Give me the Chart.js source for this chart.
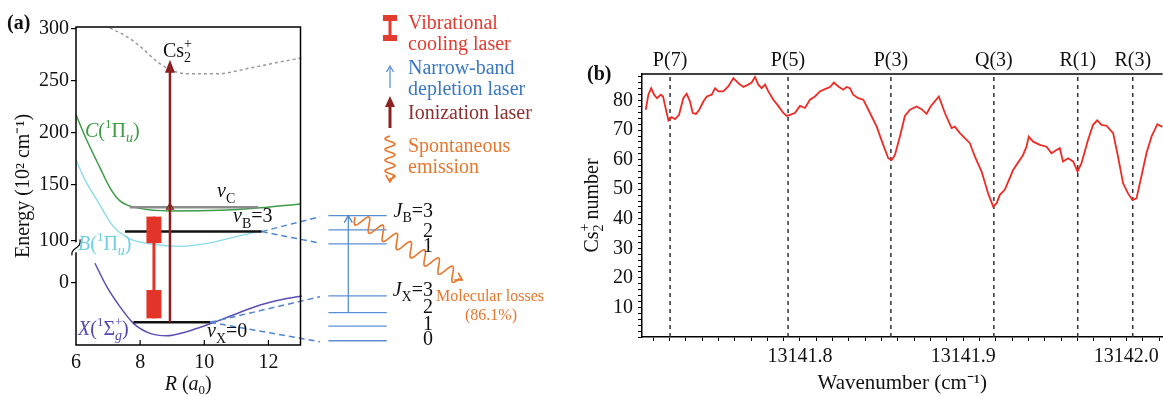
<!DOCTYPE html>
<html>
<head>
<meta charset="utf-8">
<script src="https://cdn.jsdelivr.net/npm/chart.js@4.4.0/dist/chart.umd.min.js"></script>
<style>
  html, body { margin: 0; padding: 0; background: #fff; overflow: hidden; }
  #wrap { position: relative; width: 1163px; height: 396px; }
  #chartA { position: absolute; left: 0; top: 0; }
  #chartB { position: absolute; left: 580px; top: 0; }
</style>
</head>
<body>
<div id="wrap">
  <canvas id="chartA" width="580" height="396"></canvas>
  <canvas id="chartB" width="583" height="396"></canvas>
</div>
<script>
const SERIF = '"Liberation Serif", "Times New Roman", serif';

// ---------- Panel (a): Cs2 potential curves (R in a0, energy in plot units) ----------
const ionCurveR = [7.06, 7.53, 8.0, 8.52, 8.83, 9.45, 10.39, 11.43, 12.45, 13.04];
const ionCurveE = [300.7, 293.3, 283.0, 268.6, 262.2, 256.7, 256.7, 262.2, 268.6, 271.8];
const stateCR = [6.0, 6.33, 6.75, 7.06, 7.37, 7.99, 8.93, 10.49, 11.74, 13.02];
const stateCE = [217.3, 193.3, 166.3, 147.1, 134.6, 127.4, 125.0, 125.5, 127.9, 131.7];
const stateBR = [6.0, 6.28, 6.65, 7.15, 7.68, 8.31, 9.24, 10.18, 10.96, 11.77];
const stateBE = [174.0, 154.8, 135.6, 110.6, 98.1, 93.3, 90.9, 94.2, 100.0, 105.8];
const stateXR = [6.59, 6.96, 7.37, 7.79, 8.31, 8.83, 9.45, 10.08, 10.9, 11.74, 12.46, 13.04];
const stateXE = [74.7, 52.2, 33.0, 17.0, 7.4, 5.1, 9.0, 15.4, 25.0, 34.6, 40.1, 43.3];

// vibrational levels vC, vB=3, vX=0
const levelE = [128.5, 105.1, 18.0];
const levelStartR = [7.68, 7.53, 7.79];
const levelEndR = [11.68, 11.79, 10.18];
const levelColors = ['#8c8c8c', '#111111', '#111111'];

// lasers
const ionLaserR = 8.93;
const ionLaserE = [18.0, 270.2];
const coolLaserR = 8.43;
const coolLaserE = [21.8, 119.5];
const coolPulseLow = [21.8, 49.0];
const coolPulseHigh = [94.0, 119.5];

// rotational levels J (right side)
const rotLabels = ['3', '2', '1', '3', '2', '1', '0'];
const rotE = [120.5, 106.7, 93.3, 43.3, 27.2, 14.4, 0.3];
const rotR = [13.87, 15.69];
const depletionR = 14.49;
const depletionE = [27.2, 120.5];

// dashed links from vibrational levels to rotational ladders
const linkFromR = [11.79, 11.79, 10.18, 10.18];
const linkFromE = [105.1, 105.1, 18.0, 18.0];
const linkToR = [13.61, 13.61, 13.61, 13.61];
const linkToE = [119.5, 94.0, 42.6, -0.7];

// spontaneous emission arrow (start, end)
const emissionR = [14.70, 18.04];
const emissionE = [119.2, 58.7];

// energy axis (broken): tick positions and labels
const energyTickPos = [56, 96, 150, 200, 250, 300];
const energyTickLabels = ['0', '100', '150', '200', '250', '300'];
const axisBreakE = 90;
const rTicks = [6, 8, 10, 12];

// ---------- Panel (b): Cs2+ ion number vs wavenumber ----------
const wavenumbers = [
  13141.7055, 13141.7071, 13141.7088, 13141.7106, 13141.7124, 13141.7147, 13141.7161, 13141.7179,
  13141.7194, 13141.7214, 13141.7235, 13141.7259, 13141.7285, 13141.7306, 13141.7326, 13141.7343,
  13141.7363, 13141.7383, 13141.7408, 13141.7429, 13141.7459, 13141.7480, 13141.7500, 13141.7530,
  13141.7561, 13141.7592, 13141.7622, 13141.7653, 13141.7683, 13141.7704, 13141.7724, 13141.7745,
  13141.7765, 13141.7786, 13141.7806, 13141.7837, 13141.7867, 13141.7898, 13141.7919, 13141.7939,
  13141.7969, 13141.8000, 13141.8031, 13141.8061, 13141.8092, 13141.8122, 13141.8153, 13141.8184,
  13141.8208, 13141.8235, 13141.8265, 13141.8286, 13141.8306, 13141.8326, 13141.8357, 13141.8388,
  13141.8429, 13141.8470, 13141.8510, 13141.8541, 13141.8562, 13141.8582, 13141.8612, 13141.8643,
  13141.8674, 13141.8715, 13141.8745, 13141.8776, 13141.8800, 13141.8851, 13141.8888, 13141.8929,
  13141.8949, 13141.8980, 13141.9041, 13141.9072, 13141.9113, 13141.9153, 13141.9184, 13141.9205,
  13141.9225, 13141.9255, 13141.9306, 13141.9367, 13141.9388, 13141.9402, 13141.9429, 13141.9470,
  13141.9511, 13141.9541, 13141.9572, 13141.9592, 13141.9612, 13141.9643, 13141.9674, 13141.9701,
  13141.9725, 13141.9765, 13141.9796, 13141.9821, 13141.9848, 13141.9878, 13141.9919, 13141.9949,
  13141.9980, 13142.0010, 13142.0037, 13142.0062, 13142.0092, 13142.0123, 13142.0154, 13142.0190,
  13142.0215, 13142.0235
];
const ionCounts = [
  76.9, 82.0, 84.2, 82.0, 80.8, 82.0, 81.4, 76.9,
  73.3, 74.4, 73.7, 75.2, 80.8, 82.3, 79.7, 75.8,
  75.5, 76.9, 79.7, 81.4, 82.0, 84.2, 83.1, 83.1,
  84.8, 87.6, 85.9, 84.6, 85.4, 86.1, 88.0, 85.4,
  84.2, 85.4, 83.1, 80.3, 78.2, 75.8, 74.8, 75.2,
  75.8, 78.2, 77.5, 80.3, 81.4, 83.1, 83.9, 84.6,
  86.1, 84.8, 83.7, 84.6, 84.2, 82.0, 80.8, 80.3,
  75.8, 71.2, 65.0, 60.5, 59.9, 61.6, 67.8, 74.8,
  76.9, 78.0, 77.1, 75.5, 78.0, 81.4, 75.8, 70.7,
  71.2, 69.0, 65.6, 61.0, 56.0, 48.6, 44.1, 45.3,
  48.1, 49.8, 56.5, 61.6, 64.4, 67.8, 66.1, 65.0,
  64.4, 62.2, 63.3, 63.9, 59.4, 60.5, 59.4, 56.0,
  58.8, 66.7, 71.8, 73.3, 71.8, 71.5, 69.0, 61.0,
  52.0, 48.6, 46.4, 46.9, 54.3, 62.2, 67.8, 72.0,
  71.2, 71.5
];
const lineLabels = ['P(7)', 'P(5)', 'P(3)', 'Q(3)', 'R(1)', 'R(3)'];
const linePositions = [13141.7204, 13141.7927, 13141.8557, 13141.9188, 13141.9702, 13142.0039];
const waveTickLabels = [13141.8, 13141.9, 13142.0];
const countTickLabels = [10, 20, 30, 40, 50, 60, 70, 80];

// ---------- helpers ----------
const pts = (rs, es) => rs.map((r, i) => ({ x: r, y: es[i] }));
const font = (size, style) => `${style || 'normal'} ${size}px ${SERIF}`;

// parts: [text, size, style, dy, noAdvance]
function drawParts(ctx, parts, x, y, color, align) {
  let total = 0;
  parts.forEach(p => {
    ctx.font = font(p[1], p[2]);
    if (!p[4]) total += ctx.measureText(p[0]).width;
  });
  let cx = align === 'right' ? x - total : align === 'center' ? x - total / 2 : x;
  ctx.fillStyle = color;
  ctx.textAlign = 'left';
  ctx.textBaseline = 'alphabetic';
  parts.forEach(p => {
    ctx.font = font(p[1], p[2]);
    ctx.fillText(p[0], cx, y + (p[3] || 0));
    if (!p[4]) cx += ctx.measureText(p[0]).width;
  });
}

function wavyArrow(ctx, x0, y0, x1, y1, turns, amp, color) {
  const dx = x1 - x0, dy = y1 - y0, len = Math.hypot(dx, dy);
  const ux = dx / len, uy = dy / len, nx = -uy, ny = ux;
  const body = len - 3;
  ctx.strokeStyle = color;
  ctx.lineWidth = 1.6;
  ctx.beginPath();
  for (let s = 0; s <= body; s += 0.5) {
    const off = amp * Math.sin(s / body * turns * 2 * Math.PI);
    const px = x0 + ux * s + nx * off, py = y0 + uy * s + ny * off;
    if (s === 0) ctx.moveTo(px, py); else ctx.lineTo(px, py);
  }
  ctx.lineTo(x1, y1);
  ctx.stroke();
  const h = 7;
  ctx.beginPath();
  ctx.moveTo(x1 - ux * h + nx * h * 0.6, y1 - uy * h + ny * h * 0.6);
  ctx.lineTo(x1, y1);
  ctx.lineTo(x1 - ux * h - nx * h * 0.6, y1 - uy * h - ny * h * 0.6);
  ctx.stroke();
}

function arrowHead(ctx, x, y, w, h, color, filled) {
  ctx.beginPath();
  ctx.moveTo(x - w / 2, y + h);
  ctx.lineTo(x, y);
  ctx.lineTo(x + w / 2, y + h);
  if (filled) { ctx.closePath(); ctx.fillStyle = color; ctx.fill(); }
  else { ctx.strokeStyle = color; ctx.lineWidth = 1.3; ctx.stroke(); }
}

// ---------- Panel (a) decorations ----------
const diagramDecor = {
  id: 'diagramDecor',
  afterDatasetsDraw(chart) {
    const { ctx, chartArea: a, scales: { x, y } } = chart;
    ctx.save();

    // frame and inner ticks of the R axis
    ctx.strokeStyle = '#000';
    ctx.lineWidth = 1.5;
    ctx.strokeRect(a.left, a.top, a.right - a.left, a.bottom - a.top);
    ctx.lineWidth = 1.2;
    rTicks.slice(1).forEach(v => {
      const px = x.getPixelForValue(v);
      ctx.beginPath(); ctx.moveTo(px, a.bottom); ctx.lineTo(px, a.bottom - 5); ctx.stroke();
    });

    // axis break
    const by = y.getPixelForValue(axisBreakE);
    ctx.fillStyle = '#fff';
    ctx.fillRect(a.left - 3, by - 5, 6, 10);
    ctx.strokeStyle = '#000';
    ctx.lineWidth = 1.2;
    ctx.beginPath();
    ctx.moveTo(a.left - 4, by + 8);
    ctx.bezierCurveTo(a.left - 6, by, a.left + 6, by + 2, a.left + 4, by - 8);
    ctx.stroke();

    // arrowheads of the lasers
    arrowHead(ctx, x.getPixelForValue(ionLaserR), y.getPixelForValue(ionLaserE[1]), 10, 13, '#8c1f1f', true);
    arrowHead(ctx, x.getPixelForValue(depletionR), y.getPixelForValue(depletionE[1]), 8, 7, '#4f86cf', false);

    // spontaneous emission
    wavyArrow(ctx, x.getPixelForValue(emissionR[0]), y.getPixelForValue(emissionE[0]),
      x.getPixelForValue(emissionR[1]), y.getPixelForValue(emissionE[1]), 7.5, 7, '#e8772e');

    // state labels
    const sub = 13;
    drawParts(ctx, [['Cs', 20], ['+', 14, '', -9, true], ['2', 14, '', 5]], 163, 57, '#111');
    drawParts(ctx, [['C', 20, 'italic'], ['(', 20], ['1', sub, '', -9], ['\u03A0', 20], ['u', 14, 'italic', 5], [')', 20]], 85, 137, '#3d9b45');
    drawParts(ctx, [['B', 20, 'italic'], ['(', 20], ['1', sub, '', -9], ['\u03A0', 20], ['u', 14, 'italic', 5], [')', 20]], 78, 250, '#6fd0e2');
    drawParts(ctx, [['X', 20, 'italic'], ['(', 20], ['1', sub, '', -9], ['\u03A3', 20], ['+', 13, '', -9, true], ['g', 14, 'italic', 5], [')', 20]], 78, 335, '#5547b0');
    drawParts(ctx, [['v', 20, 'italic'], ['C', 14, '', 6]], 217, 197, '#111');
    drawParts(ctx, [['v', 20, 'italic'], ['B', 14, '', 6], ['=3', 20]], 233, 222, '#111');
    drawParts(ctx, [['v', 20, 'italic'], ['X', 14, '', 6], ['=0', 20]], 207, 337, '#111');

    // rotational labels
    const jBase = [217, 237, 252, 296, 313, 330, 345];
    rotLabels.forEach((t, i) => {
      drawParts(ctx, [[t, 20]], 433, jBase[i], '#111', 'right');
    });
    drawParts(ctx, [['J', 20, 'italic'], ['B', 14, '', 5], ['=', 20]], 423, jBase[0], '#111', 'right');
    drawParts(ctx, [['J', 20, 'italic'], ['X', 14, '', 5], ['=', 20]], 423, jBase[3], '#111', 'right');

    drawParts(ctx, [['Molecular losses', 16]], 490, 301, '#e8772e', 'center');
    drawParts(ctx, [['(86.1%)', 16]], 491, 320, '#e8772e', 'center');

    // axis title R (a0) and panel tag
    drawParts(ctx, [['R', 20, 'italic'], [' (', 20], ['a', 20, 'italic'], ['0', 13, '', 4], [')', 20]], (a.left + a.right) / 2, 390, '#111', 'center');
    drawParts(ctx, [['(a)', 20, 'bold']], 7, 29, '#111');

    // legend
    ctx.fillStyle = '#e53a30';
    ctx.fillRect(383, 15, 14, 6);
    ctx.fillRect(383, 35, 14, 6);
    ctx.fillRect(388.5, 21, 3, 14);
    drawParts(ctx, [['Vibrational', 20]], 408, 29, '#e53a30');
    drawParts(ctx, [['cooling laser', 20]], 408, 50, '#e53a30');

    ctx.strokeStyle = '#5a8fd6';
    ctx.lineWidth = 1.2;
    ctx.beginPath(); ctx.moveTo(390, 88); ctx.lineTo(390, 67); ctx.stroke();
    arrowHead(ctx, 390, 66, 7, 6, '#5a8fd6', false);
    drawParts(ctx, [['Narrow-band', 20]], 408, 74, '#3b78c4');
    drawParts(ctx, [['depletion laser', 20]], 408, 95, '#3b78c4');

    ctx.strokeStyle = '#8c2323';
    ctx.lineWidth = 3;
    ctx.beginPath(); ctx.moveTo(390, 128); ctx.lineTo(390, 104); ctx.stroke();
    arrowHead(ctx, 390, 96, 10, 11, '#8c2323', true);
    drawParts(ctx, [['Ionization laser', 20]], 408, 119, '#8c2f2f');

    wavyArrow(ctx, 390, 136, 390, 182, 4, 5, '#e8772e');
    drawParts(ctx, [['Spontaneous', 20]], 408, 152, '#e8772e');
    drawParts(ctx, [['emission', 20]], 408, 173, '#e8772e');

    ctx.restore();
  }
};

const line = (data, color, width, extra) => Object.assign({
  data, borderColor: color, borderWidth: width, pointRadius: 0, clip: false, fill: false
}, extra || {});
const curve = { cubicInterpolationMode: 'monotone' };

const datasetsA = [
  line([{ x: ionLaserR, y: ionLaserE[0] }, { x: ionLaserR, y: ionLaserE[1] - 6 }], '#8c1f1f', 2.5),
  line([{ x: ionLaserR, y: levelE[0] }], '#8c1f1f', 1.2, { pointRadius: 4, pointStyle: 'triangle', pointBorderColor: '#8c1f1f', pointBackgroundColor: 'rgba(90,140,70,0.6)' }),
  line(pts([coolLaserR, coolLaserR], coolLaserE), '#e3342a', 3),
  line(pts([coolLaserR, coolLaserR], coolPulseLow), '#e3342a', 15, { borderCapStyle: 'butt' }),
  line(pts([coolLaserR, coolLaserR], coolPulseHigh), '#e3342a', 15, { borderCapStyle: 'butt' }),
  ...levelE.map((e, i) => line([{ x: levelStartR[i], y: e }, { x: levelEndR[i], y: e }], levelColors[i], 2.5)),
  ...linkToE.map((e, i) => line([{ x: linkFromR[i], y: linkFromE[i] }, { x: linkToR[i], y: e }], '#4f86cf', 1.5, { borderDash: [6, 4] })),
  ...rotE.map(e => line([{ x: rotR[0], y: e }, { x: rotR[1], y: e }], '#5a8fd6', 1.3)),
  line(pts([depletionR, depletionR], depletionE), '#4f86cf', 1.2),
  line(pts(stateCR, stateCE), '#3d9b45', 1.5, curve),
  line(pts(stateBR, stateBE), '#86dbea', 1.3, curve),
  line(pts(stateXR, stateXE), '#5b4fb3', 1.5, curve),
  line(pts(ionCurveR, ionCurveE), '#9a9a9a', 1.5, Object.assign({ borderDash: [3, 3] }, curve))
];

new Chart(document.getElementById('chartA'), {
  type: 'line',
  data: { datasets: datasetsA },
  options: {
    responsive: false,
    animation: false,
    events: [],
    layout: { padding: { left: 0, top: 27, right: 279.5, bottom: 0 } },
    plugins: { legend: { display: false }, tooltip: { enabled: false } },
    scales: {
      x: {
        type: 'linear', min: 6, max: 13,
        afterFit: s => { s.height = 51; },
        afterBuildTicks: s => { s.ticks = rTicks.map(v => ({ value: v })); },
        ticks: { autoSkip: false, maxRotation: 0, padding: 6, color: '#111', font: { family: SERIF, size: 20 } },
        grid: { display: false, drawTicks: false },
        border: { display: false }
      },
      y: {
        type: 'linear', min: -3.8, max: 301.6,
        afterFit: s => { s.width = 76; },
        afterBuildTicks: s => { s.ticks = energyTickPos.map(v => ({ value: v })); },
        ticks: {
          autoSkip: false, padding: 2, color: '#111', font: { family: SERIF, size: 20 },
          callback: (v, i) => energyTickLabels[i]
        },
        grid: { drawOnChartArea: false, drawTicks: true, tickLength: 5, color: '#000', lineWidth: 1.2 },
        border: { display: false },
        title: { display: true, text: 'Energy (10\u00B2 cm\u207B\u00B9)', color: '#111', font: { family: SERIF, size: 20 }, padding: { top: 12, bottom: 0 } }
      }
    }
  },
  plugins: [diagramDecor]
});

// ---------- Panel (b) ----------
const spectrumDecor = {
  id: 'spectrumDecor',
  afterDraw(chart) {
    const { ctx, chartArea: a, scales: { x } } = chart;
    ctx.save();
    ctx.strokeStyle = '#000';
    ctx.lineWidth = 1.5;
    ctx.beginPath(); ctx.moveTo(a.left, a.top); ctx.lineTo(a.right, a.top); ctx.stroke();
    ctx.fillStyle = '#111';
    ctx.font = font(20);
    ctx.textAlign = 'center';
    ctx.textBaseline = 'alphabetic';
    lineLabels.forEach((t, i) => ctx.fillText(t, x.getPixelForValue(linePositions[i]), 66));
    ctx.font = font(20, 'bold');
    ctx.textAlign = 'left';
    ctx.fillText('(b)', 7, 80);

    // y-axis title with stacked sub/superscript
    ctx.translate(11, (a.top + a.bottom) / 2);
    ctx.rotate(-Math.PI / 2);
    drawParts(ctx, [['Cs', 20], ['+', 14, '', -9, true], ['2', 14, '', 5], [' number', 20]], 0, 7, '#111', 'center');
    ctx.restore();
  }
};

const waveMinor = [];
for (let k = 13141.71; k <= 13142.0201; k += 0.01) waveMinor.push(Math.round(k * 100) / 100);
const countMinor = [];
for (let k = 0; k <= 88; k += 2) countMinor.push(k);

new Chart(document.getElementById('chartB'), {
  type: 'line',
  data: {
    datasets: [
      {
        data: pts(wavenumbers, ionCounts),
        borderColor: '#ee2b24', borderWidth: 1.8, pointRadius: 0, tension: 0, fill: false
      },
      ...linePositions.map(p => ({
        data: [{ x: p, y: 0 }, { x: p, y: 89 }],
        borderColor: '#333', borderWidth: 1.5, borderDash: [4, 4], pointRadius: 0, fill: false
      }))
    ]
  },
  options: {
    responsive: false,
    animation: false,
    events: [],
    layout: { padding: { left: 0, top: 74, right: 0, bottom: 0 } },
    plugins: { legend: { display: false }, tooltip: { enabled: false } },
    scales: {
      x: {
        type: 'linear', min: 13141.7032, max: 13142.0222,
        afterFit: s => { s.height = 59; },
        afterBuildTicks: s => { s.ticks = waveMinor.map(v => ({ value: v })); },
        ticks: {
          autoSkip: false, maxRotation: 0, padding: 4, color: '#111', font: { family: SERIF, size: 20 },
          callback: v => waveTickLabels.some(t => Math.abs(t - v) < 1e-6) ? v.toFixed(1) : ''
        },
        grid: { drawOnChartArea: false, drawTicks: true, tickLength: 4, color: '#000', lineWidth: 1 },
        border: { display: true, color: '#000', width: 1.5 },
        title: { display: true, text: 'Wavenumber (cm\u207B\u00B9)', color: '#111', font: { family: SERIF, size: 21 }, padding: { top: 0, bottom: 0 } }
      },
      y: {
        type: 'linear', min: 0, max: 89,
        afterFit: s => { s.width = 62; },
        afterBuildTicks: s => { s.ticks = countMinor.map(v => ({ value: v })); },
        ticks: {
          autoSkip: false, padding: 5, color: '#111', font: { family: SERIF, size: 20 },
          callback: v => countTickLabels.includes(v) ? String(v) : ''
        },
        grid: { drawOnChartArea: false, drawTicks: true, tickLength: 4, color: '#000', lineWidth: 1 },
        border: { display: true, color: '#000', width: 1.5 }
      }
    }
  },
  plugins: [spectrumDecor]
});
</script>
</body>
</html>
